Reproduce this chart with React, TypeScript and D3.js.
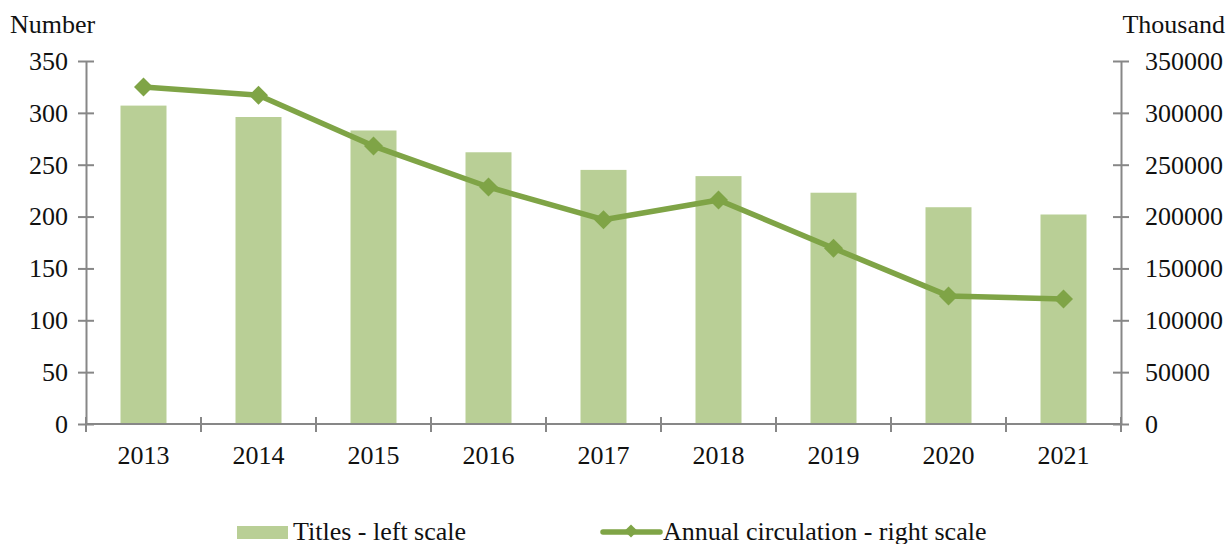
import { useEffect, useRef } from "react"
import * as d3 from "d3"

const years = ["2013", "2014", "2015", "2016", "2017", "2018", "2019", "2020", "2021"]
const titles = [307, 296, 283, 262, 245, 239, 223, 209, 202]
const circulation = [325000, 317000, 268000, 228500, 197000, 216000, 169500, 123500, 120500]
const leftTicks = [0, 50, 100, 150, 200, 250, 300, 350]
const rightTicks = [0, 50000, 100000, 150000, 200000, 250000, 300000, 350000]

const barColor = "#b9cf96"
const lineColor = "#7fa446"
const axisColor = "#878787"
const font = "Liberation Serif, Tinos, Times New Roman, DejaVu Serif, serif"
const fontSize = 26

export default function App() {
  const svgRef = useRef<SVGSVGElement>(null)

  useEffect(() => {
    const svg = d3.select(svgRef.current)
    svg.selectAll("*").remove()

    const left = 86
    const right = 1121
    const top = 61
    const bottom = 424

    const x = d3.scaleBand().domain(years).range([left, right]).paddingInner(0.6).paddingOuter(0.3)
    const yL = d3.scaleLinear().domain([0, 350]).range([bottom, top])
    const yR = d3.scaleLinear().domain([0, 350000]).range([bottom, top])

    // bars
    svg
      .append("g")
      .selectAll("rect")
      .data(titles)
      .join("rect")
      .attr("x", (d, i) => x(years[i]))
      .attr("y", (d) => yL(d))
      .attr("width", x.bandwidth())
      .attr("height", (d) => bottom - yL(d))
      .attr("fill", barColor)

    // axes
    const styleAxis = (g) => {
      g.attr("font-family", font).attr("font-size", fontSize)
      g.select(".domain").attr("stroke", axisColor).attr("stroke-width", 2)
      g.selectAll(".tick line").attr("stroke", axisColor).attr("stroke-width", 2)
      g.selectAll(".tick text").attr("fill", "#111")
    }

    svg
      .append("g")
      .attr("transform", `translate(${left},0)`)
      .call(d3.axisLeft(yL).tickValues(leftTicks).tickSizeInner(8).tickSizeOuter(0).tickPadding(10))
      .call(styleAxis)
      .call((g) => g.selectAll(".tick line").attr("x2", 8).attr("x1", -8))

    svg
      .append("g")
      .attr("transform", `translate(${right},0)`)
      .call(d3.axisRight(yR).tickValues(rightTicks).tickSizeInner(8).tickSizeOuter(0).tickPadding(16).tickFormat(d3.format("d")))
      .call(styleAxis)
      .call((g) => g.selectAll(".tick line").attr("x1", -8).attr("x2", 8))

    const xAxis = svg
      .append("g")
      .attr("transform", `translate(0,${bottom})`)
      .call(d3.axisBottom(x).tickSize(0).tickSizeOuter(0).tickPadding(22))
      .call(styleAxis)
    xAxis.select(".domain").attr("d", `M${left},0H${right}`)
    const step = x.step()
    xAxis
      .selectAll(".sep")
      .data(d3.range(years.length + 1))
      .join("line")
      .attr("x1", (i) => left + i * step)
      .attr("x2", (i) => left + i * step)
      .attr("y1", -7)
      .attr("y2", 8)
      .attr("stroke", axisColor)
      .attr("stroke-width", 2)

    // line
    const cx = (i) => x(years[i]) + x.bandwidth() / 2
    const line = d3
      .line<number>()
      .x((d, i) => cx(i))
      .y((d) => yR(d))
    svg
      .append("path")
      .datum(circulation)
      .attr("d", line)
      .attr("fill", "none")
      .attr("stroke", lineColor)
      .attr("stroke-width", 5.5)
      .attr("stroke-linejoin", "round")

    const diamond = d3.symbol(d3.symbolDiamond2, 230)
    svg
      .append("g")
      .selectAll("path")
      .data(circulation)
      .join("path")
      .attr("d", diamond)
      .attr("transform", (d, i) => `translate(${cx(i)},${yR(d)})`)
      .attr("fill", lineColor)

    const label = (g, x0, y0, t, anchor = "start") =>
      g
        .append("text")
        .attr("x", x0)
        .attr("y", y0)
        .attr("text-anchor", anchor)
        .attr("font-family", font)
        .attr("font-size", fontSize)
        .attr("fill", "#111")
        .text(t)

    // axis titles
    label(svg, 10, 33, "Number")
    label(svg, 1225, 33, "Thousand", "end")

    // legend
    const legend = svg.append("g")
    legend.append("rect").attr("x", 237).attr("y", 526).attr("width", 51).attr("height", 13).attr("fill", barColor)
    label(legend, 293, 540, "Titles - left scale")
    legend
      .append("line")
      .attr("x1", 603)
      .attr("x2", 660)
      .attr("y1", 532)
      .attr("y2", 532)
      .attr("stroke", lineColor)
      .attr("stroke-width", 5.5)
      .attr("stroke-linecap", "round")
    legend
      .append("path")
      .attr("d", d3.symbol(d3.symbolDiamond2, 110))
      .attr("transform", "translate(631,531)")
      .attr("fill", lineColor)
    label(legend, 663, 540, "Annual circulation - right scale")
  }, [])

  return (
    <svg
      ref={svgRef}
      width={1228}
      height={544}
      style={{ position: "absolute", left: 0, top: 0, background: "#fff" }}
    />
  )
}
